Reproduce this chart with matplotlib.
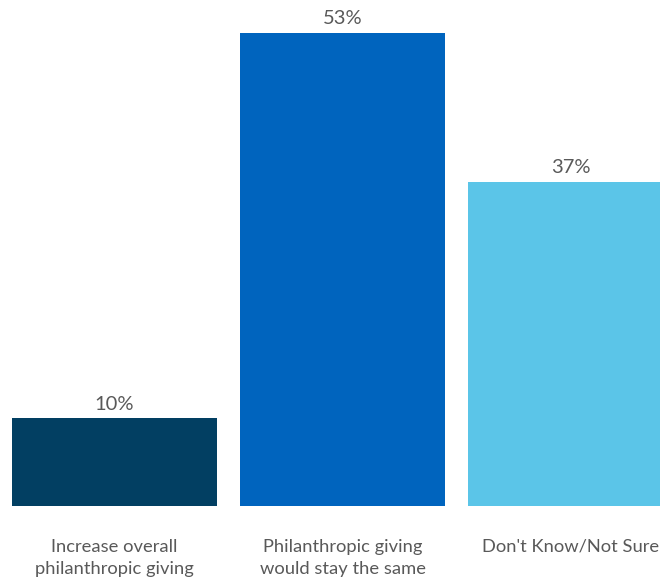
import matplotlib
matplotlib.use("Agg")
import matplotlib.pyplot as plt

categories = ["Increase overall\nphilanthropic giving",
              "Philanthropic giving\nwould stay the same",
              "Don't Know/Not Sure"]
labels = [10, 53, 37]            # printed percentages
heights = [9.8, 53.0, 36.3]      # bar heights as drawn in the picture
colors = ["#023F62", "#0064BE", "#5BC5E8"]

plt.rcParams['font.family'] = ['Lato', 'DejaVu Sans']
text_grey = "#595959"

fig = plt.figure(figsize=(6.6, 5.84), dpi=100)
# axes spans the full width; bottom of bars at y=505px, 53% top at y=33px
ax = fig.add_axes([0, (584 - 505.5) / 584, 1, (505.5 - 33) / 584])

x = list(range(len(categories)))
bars = ax.bar(x, heights, width=0.9, color=colors)
ax.set_xlim(-0.502, 2.39)
ax.set_ylim(0, 53)

for b, h, v in zip(bars, heights, labels):
    ax.annotate(f"{v}%", (b.get_x() + b.get_width() / 2, h),
                xytext=(0, 4), textcoords="offset points",
                ha="center", va="bottom", fontsize=14.5, color=text_grey)

ax.set_xticks(x)
ax.set_xticklabels(categories, fontsize=13.2, color=text_grey, linespacing=1.45)
ax.tick_params(axis="x", length=0, pad=24)
ax.set_yticks([])
for s in ax.spines.values():
    s.set_visible(False)
for lbl in ax.get_xticklabels():
    lbl.set_clip_on(False)

fig.savefig("out.png", dpi=100)
